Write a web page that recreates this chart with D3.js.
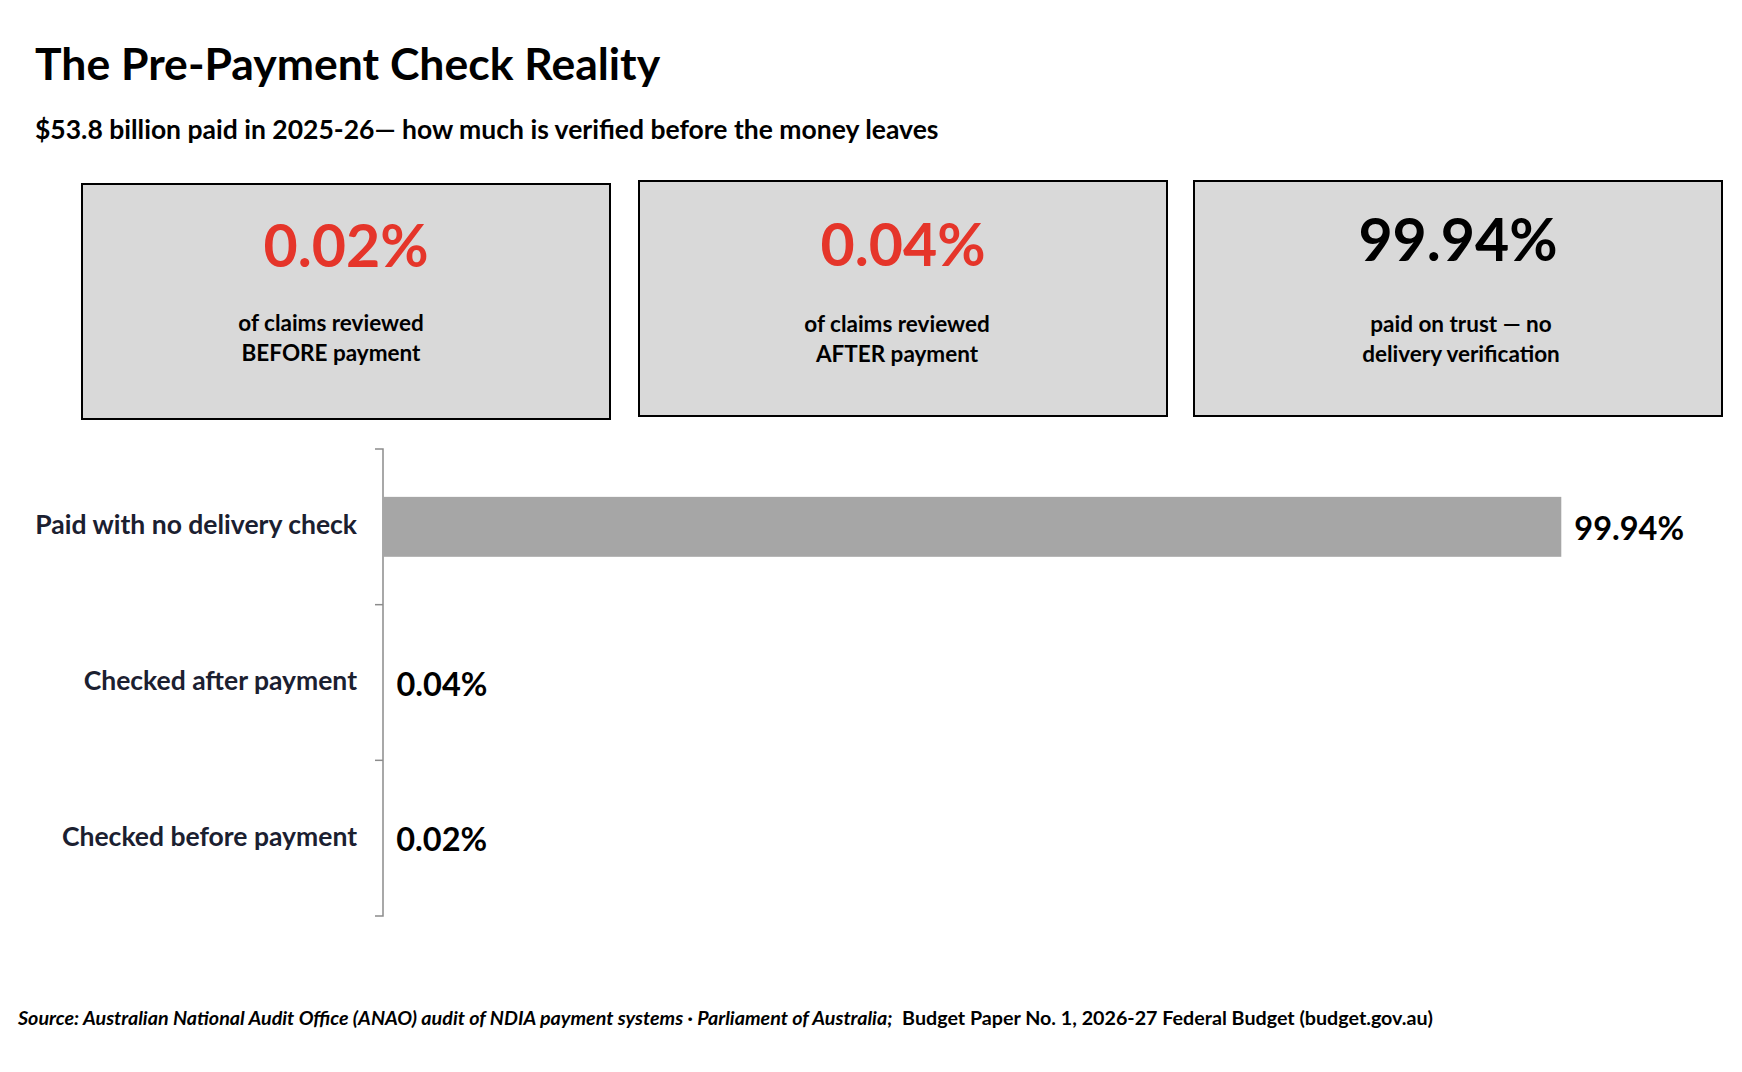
<!DOCTYPE html>
<html>
<head>
<meta charset="utf-8">
<script src="https://cdn.jsdelivr.net/npm/d3@7"></script>
<style>
  body { margin: 0; background: #fff; }
  text { font-family: Lato, "Open Sans", sans-serif; }
</style>
</head>
<body>
<svg id="chart" width="1742" height="1072"></svg>
<script>
// data
var categories = ["Paid with no delivery check", "Checked after payment", "Checked before payment"];
var values = [99.94, 0.04, 0.02];
var valueLabels = ["99.94%", "0.04%", "0.02%"];

var cardValues = ["0.02%", "0.04%", "99.94%"];
var cardLines = [["of claims reviewed", "BEFORE payment"], ["of claims reviewed", "AFTER payment"], ["paid on trust \u2014 no", "delivery verification"]];
var cardColors = ["#e5352a", "#e5352a", "#000000"];

var svg = d3.select("#chart");

//title and subtitle
svg.append("text").attr("x", 35).attr("y", 80)
  .attr("font-size", 44.5).attr("font-weight", 700).attr("fill", "#000")
  .text("The Pre-Payment Check Reality");
svg.append("text").attr("x", 35).attr("y", 139)
  .attr("font-size", 26.5).attr("font-weight", 700).attr("fill", "#000")
  .text("$53.8 billion paid in 2025-26\u2014 how much is verified before the money leaves");

//summary cards
var cardX = [82, 639, 1194];
var cardY = [184, 181, 181];
var cardW = 528, cardH = 235;
var numY = [83, 85, 80];
var lineY = [147, 151, 151];
var textDx = [-15, -6, 3];

var cards = svg.selectAll(".card").data(cardValues).enter().append("g")
  .attr("class", "card")
  .attr("transform", (d, i) => "translate(" + cardX[i] + "," + cardY[i] + ")");

cards.append("rect")
  .attr("width", cardW).attr("height", cardH)
  .attr("fill", "#d9d9d9").attr("stroke", "#000").attr("stroke-width", 2);

cards.append("text")
  .attr("x", cardW / 2).attr("y", (d, i) => numY[i])
  .attr("text-anchor", "middle").attr("font-size", 59).attr("font-weight", 700)
  .attr("fill", (d, i) => cardColors[i])
  .text(d => d);

cards.each(function (d, i) {
  var g = d3.select(this);
  cardLines[i].forEach((line, j) => {
    g.append("text")
      .attr("x", cardW / 2 + textDx[i]).attr("y", lineY[i] + j * 30)
      .attr("text-anchor", "middle").attr("font-size", 22.5).attr("font-weight", 700)
      .attr("fill", "#000")
      .text(line);
  });
});

//bar chart
var x = d3.scaleLinear().domain([0, 100]).range([383, 1562]);
var y = d3.scaleBand().domain(categories).range([449, 916]).paddingInner(0.615).paddingOuter(0.3075);

var yAxis = svg.append("g")
  .attr("transform", "translate(383,0)")
  .call(d3.axisLeft(y).tickSize(0).tickPadding(26));
yAxis.select(".domain").attr("stroke", "#8c8c8c").attr("stroke-width", 1.5)
  .attr("d", "M-8,449H0V916H-8");
yAxis.selectAll("text")
  .attr("dy", "0.28em")
  .attr("font-size", 26.5).attr("font-weight", 700).attr("fill", "#1b2030")
  .style("font-family", "Lato, sans-serif");

//band separators as ticks
var step = (916 - 449) / categories.length;
svg.selectAll(".sep").data(d3.range(1, categories.length)).enter().append("line")
  .attr("x1", 375).attr("x2", 383)
  .attr("y1", d => 449 + d * step).attr("y2", d => 449 + d * step)
  .attr("stroke", "#8c8c8c").attr("stroke-width", 1.5);

svg.selectAll(".bar").data(values).enter().append("rect")
  .attr("x", x(0))
  .attr("y", (d, i) => y(categories[i]))
  .attr("width", d => x(d) - x(0))
  .attr("height", y.bandwidth())
  .attr("fill", "#a6a6a6");

svg.selectAll(".val").data(values).enter().append("text")
  .attr("x", d => x(d) + 13)
  .attr("y", (d, i) => y(categories[i]) + y.bandwidth() / 2 + 13)
  .attr("font-size", 32.5).attr("font-weight", 700).attr("fill", "#000")
  .text((d, i) => valueLabels[i]);

//source note
var src = svg.append("text").attr("x", 18).attr("y", 1025)
  .attr("font-size", 19.7).attr("font-weight", 700).attr("fill", "#000");
src.append("tspan").attr("font-style", "italic")
  .text("Source: Australian National Audit Office (ANAO) audit of NDIA payment systems \u00b7 Parliament of Australia;");
src.append("tspan").text("\u00a0 Budget Paper No. 1, 2026-27 Federal Budget (budget.gov.au)");
</script>
</body>
</html>
